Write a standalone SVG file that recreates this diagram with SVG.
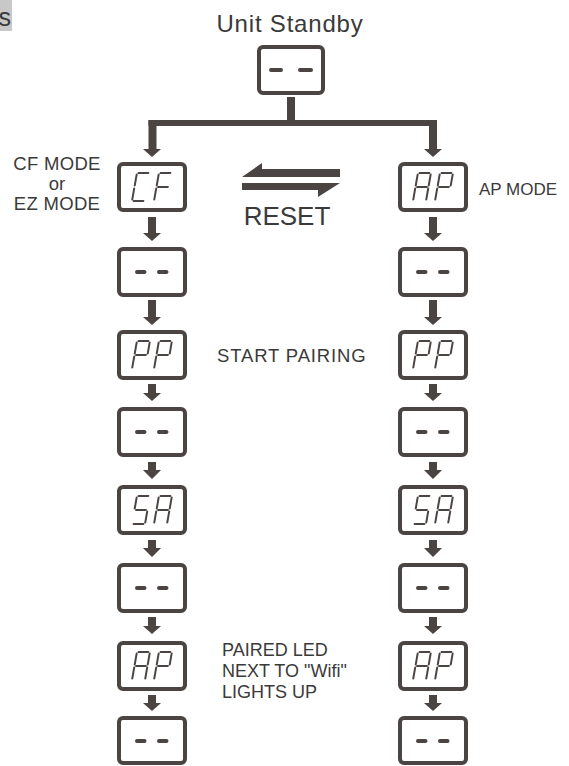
<svg xmlns="http://www.w3.org/2000/svg" xmlns:xlink="http://www.w3.org/1999/xlink" width="569" height="766" viewBox="0 0 569 766">
<style>
.box{fill:#fff;stroke:#4a4542;stroke-width:4}
.dash{fill:none;stroke:#4a4542;stroke-width:4;stroke-linecap:round}
.seg{fill:none;stroke:#4a4542;stroke-width:2;stroke-linecap:round}
.conn{fill:#4a4542;stroke:none}
text{font-family:"Liberation Sans",Arial,sans-serif;fill:#3a3a3a}
</style>
<defs>
<path id="L-C" class="seg" d="M1.6,-28H11.4M1.6,0H11.4M0,-12.4V-1.6M0,-26.4V-15.6"/>
<path id="L-F" class="seg" d="M1.6,-28H11.4M0,-12.4V-1.6M0,-26.4V-15.6M1.6,-14H11.4"/>
<path id="L-A" class="seg" d="M1.6,-28H11.4M13,-26.4V-15.6M13,-12.4V-1.6M0,-12.4V-1.6M0,-26.4V-15.6M1.6,-14H11.4"/>
<path id="L-P" class="seg" d="M1.6,-28H11.4M13,-26.4V-15.6M0,-12.4V-1.6M0,-26.4V-15.6M1.6,-14H11.4"/>
<path id="L-S" class="seg" d="M1.6,-28H11.4M0,-26.4V-15.6M1.6,-14H11.4M13,-12.4V-1.6M1.6,0H11.4"/>
<path id="dashes" class="dash" d="M-15,0H-7.5M7,0H14.5"/>
</defs>

<g id="corner-label">
<rect x="0" y="0" width="12" height="31" fill="#c8c8c8"/>
<text x="-1.5" y="26" font-size="25" fill="#2a2a2a">s</text>
</g>

<g id="title">
<text x="290" y="32" font-size="24" text-anchor="middle" letter-spacing="0.8">Unit Standby</text>
</g>

<g id="standby">
<rect class="box" x="259" y="47" width="64" height="46" rx="4"/>
<path class="dash" d="M271,70H281M300,70H311"/>
</g>

<g id="connectors">
<rect class="conn" x="287" y="97" width="8" height="26"/>
<rect class="conn" x="148.5" y="120" width="288.5" height="6"/>
<rect class="conn" x="148.5" y="120" width="8" height="30"/>
<polygon class="conn" points="143,149 161,149 152,157"/>
<rect class="conn" x="429" y="120" width="8" height="30"/>
<polygon class="conn" points="424,149 442,149 433,157"/>
<path class="conn" d="M148,217V233H143L152,241L161,233H156V217Z"/>
<path class="conn" d="M148,300V317H143L152,325L161,317H156V300Z"/>
<path class="conn" d="M148,384V393H143L152,401L161,393H156V384Z"/>
<path class="conn" d="M148,462V470H143L152,479L161,470H156V462Z"/>
<path class="conn" d="M148,540V548H143L152,557L161,548H156V540Z"/>
<path class="conn" d="M148,617V626H143L152,634L161,626H156V617Z"/>
<path class="conn" d="M148,695V703H143L152,711L161,703H156V695Z"/>
<path class="conn" d="M429,217V233H424L433,241L442,233H437V217Z"/>
<path class="conn" d="M429,300V317H424L433,325L442,317H437V300Z"/>
<path class="conn" d="M429,384V393H424L433,401L442,393H437V384Z"/>
<path class="conn" d="M429,462V470H424L433,479L442,470H437V462Z"/>
<path class="conn" d="M429,540V548H424L433,557L442,548H437V540Z"/>
<path class="conn" d="M429,617V626H424L433,634L442,626H437V617Z"/>
<path class="conn" d="M429,695V703H424L433,711L442,703H437V695Z"/>
</g>

<g id="reset">
<polygon class="conn" points="242,177 262,163 262,169 340,169 340,177"/>
<polygon class="conn" points="242,183 340,183 318,197 318,190 242,190"/>
<text x="287" y="225" font-size="26" text-anchor="middle">RESET</text>
</g>

<g id="label-cf">
<text x="57" y="170" font-size="18.5" text-anchor="middle" letter-spacing="0.3">CF MODE</text>
<text x="57" y="190" font-size="18.5" text-anchor="middle">or</text>
<text x="57" y="210" font-size="18.5" text-anchor="middle" letter-spacing="0.3">EZ MODE</text>
</g>
<g id="label-ap"><text x="479" y="195" font-size="17">AP MODE</text></g>
<g id="label-pairing"><text x="217" y="362" font-size="18.5" letter-spacing="0.85">START PAIRING</text></g>
<g id="label-paired">
<text x="222" y="656" font-size="18">PAIRED LED</text>
<text x="222" y="677" font-size="18">NEXT TO "Wifi"</text>
<text x="222" y="698" font-size="18">LIGHTS UP</text>
</g>

<!-- left column -->
<g id="L1"><rect class="box" x="119" y="164" width="66" height="46" rx="4"/>
<use xlink:href="#L-C" transform="translate(132,201) skewX(-10)"/><use xlink:href="#L-F" transform="translate(154,201) skewX(-10)"/></g>
<g id="L2"><rect class="box" x="119" y="249" width="66" height="46" rx="4"/><use xlink:href="#dashes" transform="translate(152,272)"/></g>
<g id="L3"><rect class="box" x="119" y="332" width="66" height="46" rx="4"/>
<use xlink:href="#L-P" transform="translate(132,369) skewX(-10)"/><use xlink:href="#L-P" transform="translate(154,369) skewX(-10)"/></g>
<g id="L4"><rect class="box" x="119" y="409" width="66" height="46" rx="4"/><use xlink:href="#dashes" transform="translate(152,432)"/></g>
<g id="L5"><rect class="box" x="119" y="487" width="66" height="46" rx="4"/>
<use xlink:href="#L-S" transform="translate(132,524) skewX(-10)"/><use xlink:href="#L-A" transform="translate(154,524) skewX(-10)"/></g>
<g id="L6"><rect class="box" x="119" y="565" width="66" height="46" rx="4"/><use xlink:href="#dashes" transform="translate(152,588)"/></g>
<g id="L7"><rect class="box" x="119" y="643" width="66" height="46" rx="4"/>
<use xlink:href="#L-A" transform="translate(132,680) skewX(-10)"/><use xlink:href="#L-P" transform="translate(154,680) skewX(-10)"/></g>
<g id="L8"><rect class="box" x="119" y="718" width="66" height="45" rx="4"/><use xlink:href="#dashes" transform="translate(152,741)"/></g>

<!-- right column -->
<g id="R1"><rect class="box" x="400" y="164" width="66" height="46" rx="4"/>
<use xlink:href="#L-A" transform="translate(413,201) skewX(-10)"/><use xlink:href="#L-P" transform="translate(435,201) skewX(-10)"/></g>
<g id="R2"><rect class="box" x="400" y="249" width="66" height="46" rx="4"/><use xlink:href="#dashes" transform="translate(433,272)"/></g>
<g id="R3"><rect class="box" x="400" y="332" width="66" height="46" rx="4"/>
<use xlink:href="#L-P" transform="translate(413,369) skewX(-10)"/><use xlink:href="#L-P" transform="translate(435,369) skewX(-10)"/></g>
<g id="R4"><rect class="box" x="400" y="409" width="66" height="46" rx="4"/><use xlink:href="#dashes" transform="translate(433,432)"/></g>
<g id="R5"><rect class="box" x="400" y="487" width="66" height="46" rx="4"/>
<use xlink:href="#L-S" transform="translate(413,524) skewX(-10)"/><use xlink:href="#L-A" transform="translate(435,524) skewX(-10)"/></g>
<g id="R6"><rect class="box" x="400" y="565" width="66" height="46" rx="4"/><use xlink:href="#dashes" transform="translate(433,588)"/></g>
<g id="R7"><rect class="box" x="400" y="643" width="66" height="46" rx="4"/>
<use xlink:href="#L-A" transform="translate(413,680) skewX(-10)"/><use xlink:href="#L-P" transform="translate(435,680) skewX(-10)"/></g>
<g id="R8"><rect class="box" x="400" y="718" width="66" height="45" rx="4"/><use xlink:href="#dashes" transform="translate(433,741)"/></g>
</svg>
